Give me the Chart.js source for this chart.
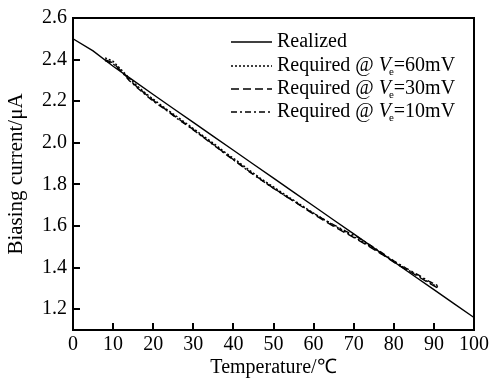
<!DOCTYPE html>
<html>
<head>
<meta charset="utf-8">
<script src="https://cdn.jsdelivr.net/npm/chart.js@4.4.1/dist/chart.umd.min.js"></script>
<style>
  html, body { margin: 0; padding: 0; background: #fff; }
  #wrap { width: 492px; height: 384px; }
</style>
</head>
<body>
<div id="wrap"><canvas id="biasChart"></canvas></div>
<script>
// data
var realizedT = [0, 5, 10, 15, 20, 25, 30, 35, 40, 45, 50, 55, 60, 65, 70, 75, 80, 85, 90, 95, 100];
var realizedI = [2.500, 2.442, 2.368, 2.300, 2.232, 2.165, 2.098, 2.031, 1.964, 1.897, 1.830, 1.763, 1.696, 1.629, 1.562, 1.495, 1.428, 1.361, 1.294, 1.227, 1.160];

var requiredT = [8, 10, 12, 14, 16, 18, 20, 23, 26, 29, 32, 35, 38, 41, 44, 47, 50, 53, 56, 59, 62, 65, 68, 71, 74, 77, 80, 83, 86, 89, 91];
var req60 = [2.408, 2.392, 2.352, 2.312, 2.274, 2.240, 2.210, 2.166, 2.125, 2.083, 2.040, 1.998, 1.953, 1.912, 1.868, 1.826, 1.788, 1.749, 1.712, 1.674, 1.638, 1.603, 1.570, 1.538, 1.503, 1.467, 1.430, 1.394, 1.362, 1.327, 1.306];
var req30 = [2.400, 2.384, 2.345, 2.304, 2.268, 2.236, 2.204, 2.162, 2.119, 2.078, 2.035, 1.992, 1.948, 1.905, 1.862, 1.821, 1.782, 1.744, 1.707, 1.669, 1.633, 1.598, 1.566, 1.534, 1.500, 1.464, 1.426, 1.391, 1.358, 1.323, 1.302];
var req10 = [2.395, 2.380, 2.343, 2.300, 2.265, 2.232, 2.200, 2.160, 2.116, 2.076, 2.033, 1.990, 1.946, 1.904, 1.860, 1.820, 1.781, 1.744, 1.708, 1.672, 1.638, 1.606, 1.575, 1.546, 1.510, 1.472, 1.433, 1.398, 1.366, 1.332, 1.313];

var seriesLabels = ['Realized', 'Required @ V_e=60mV', 'Required @ V_e=30mV', 'Required @ V_e=10mV'];
var xTicks = [0, 10, 20, 30, 40, 50, 60, 70, 80, 90, 100];
var yTicks = [1.2, 1.4, 1.6, 1.8, 2.0, 2.2, 2.4, 2.6];

var FONT = "'Liberation Serif', 'Times New Roman', serif";

function pts(xs, ys) {
  return xs.map(function (x, i) { return { x: x, y: ys[i] }; });
}

// inward ticks, box, and the legend with italic V and subscript e
var frame = {
  id: 'frame',
  afterDraw: function (chart) {
    var ctx = chart.ctx, a = chart.chartArea;
    var xs = chart.scales.x, ys = chart.scales.y;
    ctx.save();
    ctx.strokeStyle = '#000';
    ctx.lineWidth = 2;
    ctx.beginPath();
    ctx.moveTo(a.left, a.top); ctx.lineTo(a.right, a.top); ctx.lineTo(a.right, a.bottom);
    ctx.stroke();
    ctx.beginPath();
    xTicks.forEach(function (v) {
      var p = Math.round(xs.getPixelForValue(v));
      ctx.moveTo(p, a.bottom); ctx.lineTo(p, a.bottom - 7);
    });
    yTicks.forEach(function (v) {
      var p = Math.round(ys.getPixelForValue(v));
      ctx.moveTo(a.left, p); ctx.lineTo(a.left + 7, p);
    });
    ctx.stroke();

    // legend
    var rowY = [42, 66, 89, 112];
    ctx.textBaseline = 'middle';
    chart.data.datasets.forEach(function (ds, i) {
      var y = rowY[i];
      ctx.lineWidth = 1.5;
      ctx.setLineDash(ds.borderDash || []);
      ctx.beginPath(); ctx.moveTo(231, y); ctx.lineTo(272, y); ctx.stroke();
      ctx.setLineDash([]);
      var x = 277;
      var parts = ds.label.split('V_e');
      ctx.fillStyle = '#000';
      ctx.font = '20px ' + FONT;
      ctx.fillText(parts[0], x, y);
      if (parts.length > 1) {
        x += ctx.measureText(parts[0]).width;
        ctx.font = 'italic 20px ' + FONT;
        ctx.fillText('V', x, y);
        x += ctx.measureText('V').width - 2;
        ctx.font = '11px ' + FONT;
        ctx.fillText('e', x, y + 6);
        x += ctx.measureText('e').width;
        ctx.font = '20px ' + FONT;
        ctx.fillText(parts[1], x, y);
      }
    });
    ctx.restore();
  }
};

new Chart(document.getElementById('biasChart'), {
  type: 'line',
  data: {
    datasets: [
      { label: seriesLabels[0], data: pts(realizedT, realizedI), borderColor: '#000', borderWidth: 1.4, borderDash: [] },
      { label: seriesLabels[1], data: pts(requiredT, req60), borderColor: '#000', borderWidth: 1.4, borderDash: [2, 2] },
      { label: seriesLabels[2], data: pts(requiredT, req30), borderColor: '#000', borderWidth: 1.4, borderDash: [8, 4] },
      { label: seriesLabels[3], data: pts(requiredT, req10), borderColor: '#000', borderWidth: 1.4, borderDash: [6, 3, 2, 3] }
    ]
  },
  options: {
    responsive: true,
    maintainAspectRatio: false,
    animation: false,
    elements: { point: { radius: 0 }, line: { tension: 0 } },
    layout: { padding: { left: 0, top: 13, right: 15, bottom: 0 } },
    plugins: { legend: { display: false }, tooltip: { enabled: false } },
    scales: {
      x: {
        type: 'linear', min: 0, max: 100,
        afterBuildTicks: function (s) { s.ticks = xTicks.map(function (v) { return { value: v }; }); },
        afterFit: function (s) { s.height = 54; },
        grid: { display: false, drawTicks: false },
        border: { display: true, color: '#000', width: 2 },
        ticks: { color: '#000', padding: 3, maxRotation: 0, autoSkip: false, font: { family: FONT, size: 20 } },
        title: { display: true, text: 'Temperature/℃', color: '#000', padding: { top: 0, bottom: 4 }, font: { family: FONT, size: 20 } }
      },
      y: {
        type: 'linear', min: 1.1, max: 2.6,
        afterBuildTicks: function (s) { s.ticks = yTicks.map(function (v) { return { value: v }; }); },
        afterFit: function (s) { s.width = 73; },
        grid: { display: false, drawTicks: false },
        border: { display: true, color: '#000', width: 2 },
        ticks: { color: '#000', padding: 6, autoSkip: false, font: { family: FONT, size: 20 },
          callback: function (v) { return Number(v).toFixed(1); } },
        title: { display: true, text: 'Biasing current/μA', color: '#000', padding: { top: 4, bottom: 0 }, font: { family: FONT, size: 21 } }
      }
    }
  },
  plugins: [frame]
});
</script>
</body>
</html>
